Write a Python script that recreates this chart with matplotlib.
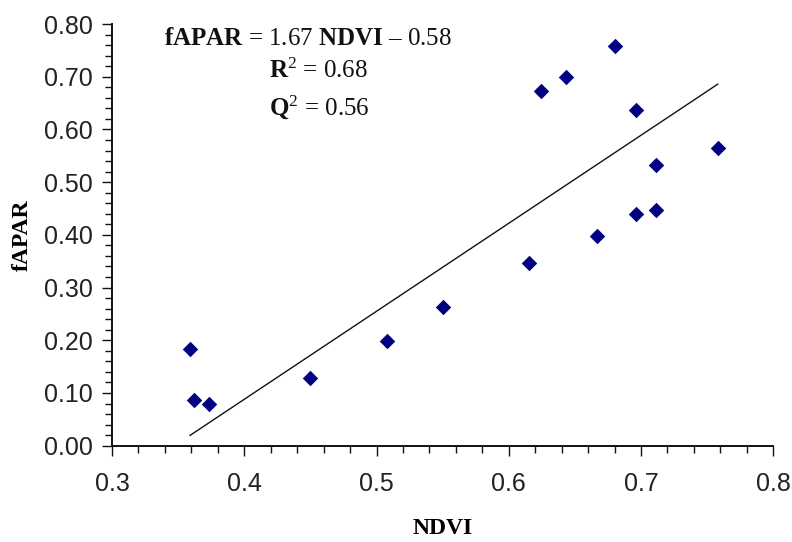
import matplotlib
matplotlib.use("Agg")
import matplotlib.pyplot as plt
import numpy as np
from matplotlib.ticker import MultipleLocator, FormatStrFormatter

plt.rcParams['mathtext.fontset'] = 'custom'
plt.rcParams['mathtext.rm'] = 'Liberation Serif'
plt.rcParams['mathtext.bf'] = 'Liberation Serif:bold'
plt.rcParams['mathtext.it'] = 'Liberation Serif:italic'

# Data
ndvi = [0.359, 0.362, 0.373, 0.450, 0.508, 0.550, 0.615, 0.624, 0.643,
        0.667, 0.680, 0.696, 0.696, 0.711, 0.711, 0.758]
fapar = [0.183, 0.087, 0.079, 0.129, 0.199, 0.264, 0.346, 0.673, 0.700,
         0.397, 0.758, 0.440, 0.636, 0.447, 0.533, 0.564]
slope = 1.67
intercept = -0.58
x_ticks = [0.3, 0.4, 0.5, 0.6, 0.7, 0.8]
y_ticks = [0.0, 0.1, 0.2, 0.3, 0.4, 0.5, 0.6, 0.7, 0.8]

fig = plt.figure(figsize=(7.92, 5.42), dpi=100)
ax = fig.add_axes([112/792, 1-445.7/542, 661.3/792, 421.7/542])

ax.scatter(ndvi, fapar, marker='D', s=62, color='#000080', zorder=3, linewidths=0)
xl = np.array([min(ndvi), max(ndvi)])
ax.plot(xl, slope*xl + intercept, color='#111111', lw=1.0, zorder=2)

ax.set_xlim(0.3, 0.8)
ax.set_ylim(0.0, 0.8)
ax.set_xticks(x_ticks)
ax.set_yticks(y_ticks)
ax.xaxis.set_minor_locator(MultipleLocator(0.02))
ax.yaxis.set_minor_locator(MultipleLocator(0.02))
ax.xaxis.set_major_formatter(FormatStrFormatter('%.1f'))
ax.yaxis.set_major_formatter(FormatStrFormatter('%.2f'))

for s in ['top', 'right']:
    ax.spines[s].set_visible(False)
for s in ['left', 'bottom']:
    ax.spines[s].set_linewidth(1.4)
    ax.spines[s].set_color('#111111')

ax.tick_params(which='major', direction='out', length=7, width=1.0, color='#111111')
ax.tick_params(which='minor', direction='out', length=5, width=1.0, color='#111111')
ax.tick_params(axis='y', which='major', pad=7)
ax.tick_params(axis='x', which='major', pad=12)
for lab in ax.get_xticklabels() + ax.get_yticklabels():
    lab.set_fontfamily('Liberation Sans')
    lab.set_fontsize(18)
    lab.set_color('#222222')

ax.set_xlabel('NDVI', fontfamily='Liberation Serif', fontweight='bold', fontsize=17)
ax.set_ylabel('fAPAR', fontfamily='Liberation Serif', fontweight='bold', fontsize=17)
ax.xaxis.set_label_coords(0.5, -0.172)
ax.yaxis.set_label_coords(-0.12, 0.5)

tk = dict(fontfamily='Liberation Serif', fontsize=18, ha='center', va='baseline', color='#111111')
fig.text(308.5/792, 1-45/542, r'$\mathbf{fAPAR}$ = 1.67 $\mathbf{NDVI}$ – 0.58', **tk)
fig.text(319/792, 1-78/542, r'$\mathbf{R}^{\mathrm{2}}$ = 0.68', **tk)
fig.text(319/792, 1-115/542, r'$\mathbf{Q}^{\mathrm{2}}$ = 0.56', **tk)

fig.savefig('out.png', dpi=100)
